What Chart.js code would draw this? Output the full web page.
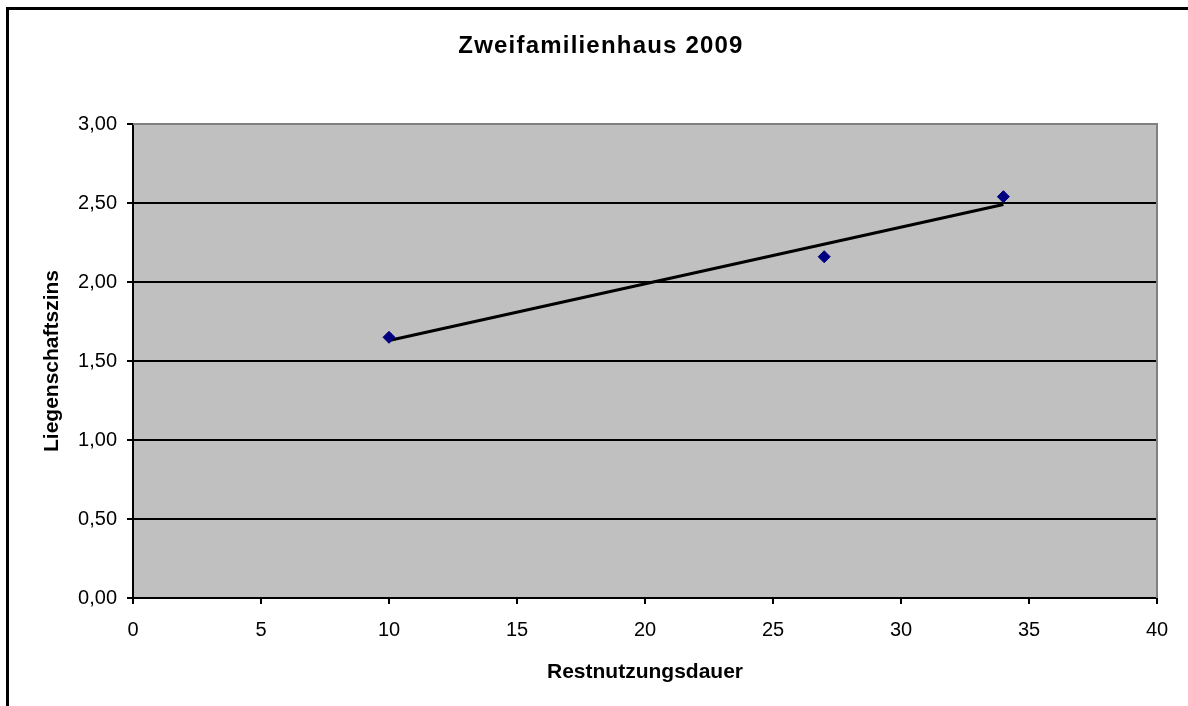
<!DOCTYPE html>
<html>
<head>
<meta charset="utf-8">
<script src="https://cdn.jsdelivr.net/npm/chart.js@4"></script>
<style>
    html, body { margin: 0; padding: 0; background: #fff; overflow: hidden; }
    #wrap { position: relative; width: 1188px; height: 706px; }
    #frame {
        position: absolute; left: 6px; top: 7px;
        width: 1400px; height: 900px;
        border: 3px solid #000; pointer-events: none;
    }
    canvas { position: absolute; left: 0; top: 0; }
</style>
</head>
<body>
<div id="wrap">
    <canvas id="chart" width="1188" height="706"></canvas>
    <div id="frame"></div>
</div>
<script>
// Zweifamilienhaus 2009 - Liegenschaftszins vs Restnutzungsdauer
const chartTitle = "Zweifamilienhaus 2009"
const xTitle = "Restnutzungsdauer"
const yTitle = "Liegenschaftszins"

const restnutzungsdauer = [10, 27, 34]
const liegenschaftszins = [1.65, 2.16, 2.54]

// trendline end points
const trendX = [10, 34]
const trendY = [1.63, 2.49]

const xTicks = [0, 5, 10, 15, 20, 25, 30, 35, 40]
const yTicks = [0, 0.5, 1, 1.5, 2, 2.5, 3]

const FONT = "'Liberation Sans', Arial, sans-serif"

const points = restnutzungsdauer.map((x, i) => ({ x: x, y: liegenschaftszins[i] }))
const trend = trendX.map((x, i) => ({ x: x, y: trendY[i] }))

// grey plot background + grey frame on top/right, title with wide spacing
const plotArea = {
    id: "plotArea",
    beforeDraw(chart) {
        const { ctx, chartArea: a } = chart
        ctx.save()
        ctx.fillStyle = "#C0C0C0"
        ctx.fillRect(a.left, a.top, a.right - a.left, a.bottom - a.top)
        ctx.restore()
    },
    beforeDatasetsDraw(chart) {
        const { ctx, chartArea: a } = chart
        ctx.save()
        ctx.strokeStyle = "#808080"
        ctx.lineWidth = 2
        ctx.beginPath()
        ctx.moveTo(a.left, a.top)
        ctx.lineTo(a.right, a.top)
        ctx.lineTo(a.right, a.bottom)
        ctx.stroke()
        ctx.restore()
    },
    afterDraw(chart) {
        const ctx = chart.ctx
        ctx.save()
        ctx.font = "bold 24px " + FONT
        ctx.letterSpacing = "1.2px"
        ctx.fillStyle = "#000"
        ctx.textAlign = "center"
        ctx.textBaseline = "middle"
        ctx.fillText(chartTitle, 601, 46)
        ctx.restore()
    }
}

new Chart(document.getElementById("chart").getContext("2d"), {
    type: "scatter",
    data: {
        datasets: [
            {
                label: "Trend",
                type: "line",
                data: trend,
                borderColor: "#000",
                borderWidth: 3,
                pointRadius: 0,
                fill: false,
                order: 2
            },
            {
                label: yTitle,
                data: points,
                pointStyle: "rectRot",
                pointRadius: 6,
                pointBackgroundColor: "#000080",
                pointBorderColor: "#000080",
                pointBorderWidth: 1,
                order: 1
            }
        ]
    },
    plugins: [plotArea],
    options: {
        responsive: false,
        animation: false,
        devicePixelRatio: 1,
        layout: {
            padding: { top: 124, left: 20, right: 31, bottom: 0 }
        },
        plugins: {
            legend: { display: false },
            title: { display: false },
            tooltip: { enabled: false }
        },
        scales: {
            x: {
                type: "linear",
                min: 0,
                max: 40,
                afterBuildTicks: (scale) => {
                    scale.ticks = xTicks.map(v => ({ value: v }))
                },
                afterFit: (scale) => { scale.height = 108 },
                ticks: {
                    color: "#000",
                    padding: 14,
                    maxRotation: 0,
                    font: { family: FONT, size: 20 },
                    callback: (v) => String(v)
                },
                grid: {
                    drawOnChartArea: false,
                    color: "#000",
                    lineWidth: 2,
                    tickLength: 6
                },
                border: { color: "#000", width: 2 },
                title: {
                    display: true,
                    text: xTitle,
                    color: "#000",
                    padding: { top: 0, bottom: 21 },
                    font: { family: FONT, size: 21, weight: "bold" }
                }
            },
            y: {
                type: "linear",
                min: 0,
                max: 3,
                afterBuildTicks: (scale) => {
                    scale.ticks = yTicks.map(v => ({ value: v }))
                },
                afterFit: (scale) => { scale.width = 113 },
                ticks: {
                    color: "#000",
                    padding: 10,
                    font: { family: FONT, size: 20 },
                    callback: (v) => Number(v).toFixed(2).replace(".", ",")
                },
                grid: {
                    color: (ctx) => (ctx.tick && ctx.tick.value === 3 ? "#808080" : "#000"),
                    tickColor: "#000",
                    lineWidth: 2,
                    tickLength: 6
                },
                border: { color: "#000", width: 2 },
                title: {
                    display: true,
                    text: yTitle,
                    color: "#000",
                    padding: { top: 20, bottom: 0 },
                    font: { family: FONT, size: 21, weight: "bold" }
                }
            }
        }
    }
})
</script>
</body>
</html>
